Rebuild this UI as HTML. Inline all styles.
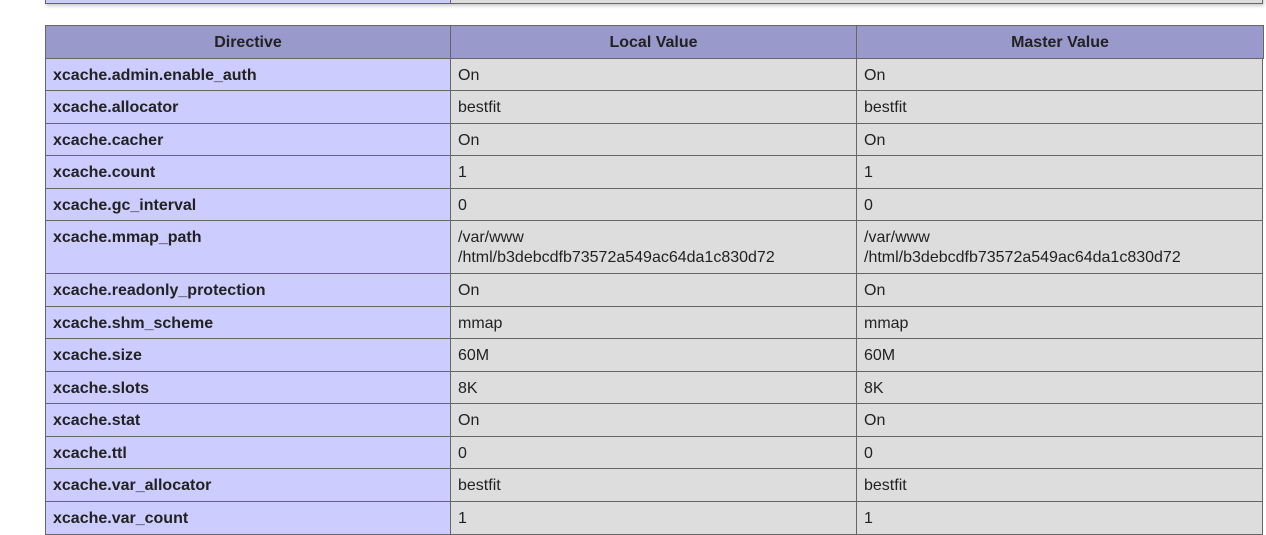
<!DOCTYPE html>
<html><head><style>
body{margin:0;width:1266px;height:535px;background:#fff;overflow:hidden;position:relative;font-family:"Liberation Sans",sans-serif;font-size:16px;color:#222}
.c{position:absolute;box-sizing:border-box;border:1px solid #666;padding:7px 0 0 7px;line-height:20px}
.h{background:#9999cc;font-weight:bold;text-align:center;padding:7px 0 0 0}
.e{background:#ccccff;font-weight:bold}
.v{background:#dddddd}
.top{position:absolute;left:45px;top:-10px;width:1218px;height:14px;box-shadow:1px 2px 3px #ccc}
</style></head><body>
<div class="top"><div class="c e" style="left:0;top:0;width:406px;height:14px"></div><div class="c v" style="left:405px;top:0;width:813px;height:14px"></div></div>
<div id="t"></div>
<script>
var rows=[["xcache.admin.enable_auth","On"],["xcache.allocator","bestfit"],["xcache.cacher","On"],["xcache.count","1"],["xcache.gc_interval","0"],["xcache.mmap_path","/var/www<br>/html/b3debcdfb73572a549ac64da1c830d72"],["xcache.readonly_protection","On"],["xcache.shm_scheme","mmap"],["xcache.size","60M"],["xcache.slots","8K"],["xcache.stat","On"],["xcache.ttl","0"],["xcache.var_allocator","bestfit"],["xcache.var_count","1"]];
var ys=[58,90,123,155,188,220,273,306,338,371,403,436,468,501,534];
var x=[45,450,856,1263],h='';
var hd=["Directive","Local Value","Master Value"];
for(var i=0;i<3;i++)h+='<div class="c h" style="left:'+x[i]+'px;top:25px;width:'+(x[i+1]-x[i]+1)+'px;height:34px">'+hd[i]+'</div>';
for(var r=0;r<rows.length;r++){var t=ys[r],hh=ys[r+1]-t+1;
h+='<div class="c e" style="left:45px;top:'+t+'px;width:406px;height:'+hh+'px">'+rows[r][0]+'</div>';
h+='<div class="c v" style="left:450px;top:'+t+'px;width:407px;height:'+hh+'px">'+rows[r][1]+'</div>';
h+='<div class="c v" style="left:856px;top:'+t+'px;width:407px;height:'+hh+'px">'+rows[r][1]+'</div>';}
document.getElementById('t').innerHTML=h;
</script>
</body></html>
